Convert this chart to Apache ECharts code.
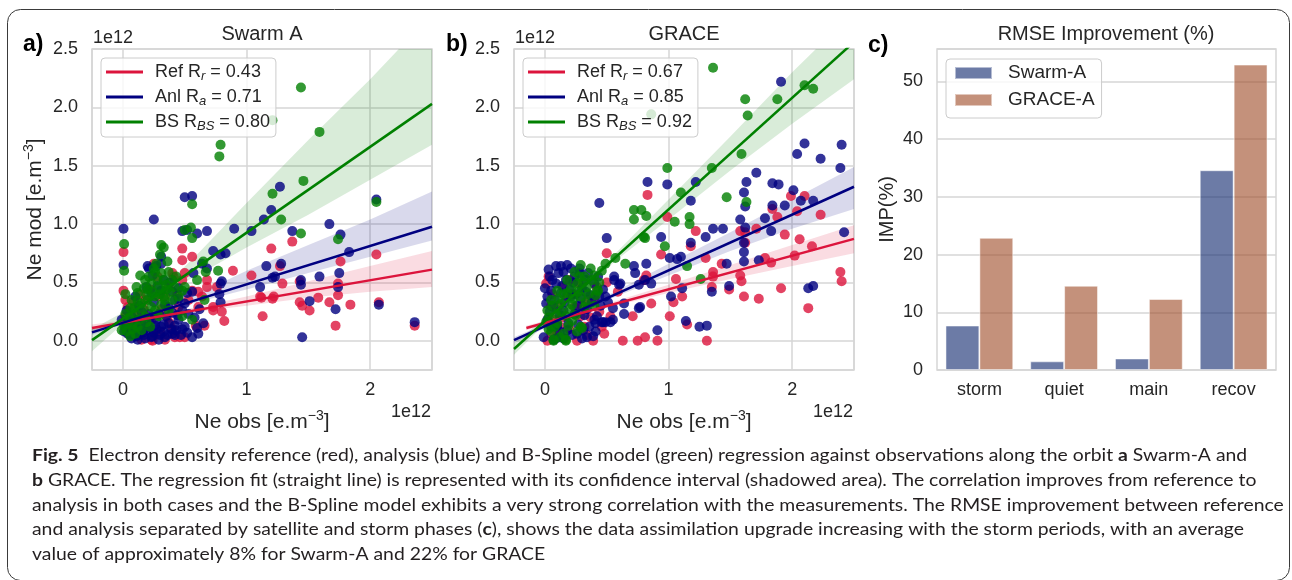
<!DOCTYPE html>
<html><head><meta charset="utf-8">
<script src="https://cdn.jsdelivr.net/npm/echarts@6/dist/echarts.min.js"></script>
<style>html,body{margin:0;padding:0;background:#fff}#c{width:1292px;height:580px}</style>
</head><body><div id="c"></div>
<script>
// ---------------- DATA ----------------
// Panel a (Swarm A): [Ne obs (1e12), Ne mod (1e12)]
const aRefPts = [
[2.05,0.74],[1.37,0.85],[1.20,0.79],[0.48,0.79],[0.005,0.76],[0.56,0.72],[0.48,0.69],[0.89,0.60],[1.04,0.56],[1.76,0.68],
[1.27,0.64],[1.29,0.49],[1.43,0.51],[1.74,0.49],[1.74,0.39],[1.11,0.38],[1.22,0.38],[1.58,0.37],[1.67,0.33],[1.84,0.31],
[1.43,0.33],[1.45,0.30],[1.51,0.26],[2.07,0.33],[1.13,0.21],[1.72,0.13],[2.36,0.13],[0.82,0.17],[0.73,0.26],[0.80,0.25],
[0.68,0.46],[0.61,0.42],[0.41,0.55],[0.005,0.43],[0.50,0.03],[0.24,0.00],[0.66,0.13],[0.68,0.52],[0.73,0.29],[0.76,0.46],
[0.23,0.01],[0.46,0.03],[0.59,0.13],[1.21,0.36],[1.12,0.37],
[0.02,0.35],[0.04,0.29],[0.02,0.21],[0.10,0.29],[0.25,0.66],[0.40,0.58],[0.34,0.38],[0.45,0.29],[0.53,0.35],[0.56,0.43],
[0.61,0.29],[0.64,0.38],[0.42,0.03],[0.34,0.01],[0.15,0.01],[0.07,0.09],[0.18,0.35],[0.29,0.38],[0.37,0.46],[0.48,0.52],
[0.12,0.23],[0.23,0.18],[0.06,0.05],[0.30,0.08],[0.20,0.12],[0.38,0.15],
[0.05,0.12],[0.09,0.34],[0.14,0.40],[0.22,0.44],[0.28,0.55],[0.31,0.27],[0.36,0.20],[0.44,0.40],[0.50,0.58],[0.40,0.10],
[0.27,0.05],[0.17,0.27]
];
const aAnlPts = [
[1.27,1.32],[0.50,1.23],[0.56,1.24],[0.25,1.04],[0.005,0.96],[1.20,1.12],[1.14,1.04],[0.48,0.94],[0.52,0.95],[0.60,0.92],
[0.68,0.94],[0.90,0.96],[1.04,0.94],[1.37,0.94],[1.67,1.00],[1.76,0.91],[2.05,1.21],[0.73,0.77],[0.79,0.74],[0.83,0.75],
[1.83,0.76],[0.005,0.65],[0.31,0.72],[0.31,0.66],[1.16,0.64],[1.28,0.66],[1.21,0.54],[1.23,0.55],[1.11,0.46],[1.59,0.55],
[1.75,0.58],[1.74,0.46],[1.44,0.52],[1.44,0.48],[1.51,0.34],[1.72,0.27],[2.07,0.31],[2.36,0.16],[1.45,0.03],[0.79,0.49],
[0.78,0.40],[0.79,0.33],[0.65,0.15],[0.48,0.10],[0.42,0.05],[0.56,0.42],[0.20,0.64],[0.21,0.62],[0.27,0.64],[0.57,0.58],
[0.64,0.66],[0.68,0.62],[0.80,0.51],[0.60,0.11],[0.52,0.41],[0.45,0.36],[0.40,0.42],
[-0.01,0.18],[0.02,0.12],[0.04,0.06],[0.07,0.02],[0.12,0.01],[0.18,0.02],[0.23,0.03],[0.29,0.01],[0.34,0.03],[0.40,0.06],
[0.10,0.12],[0.15,0.15],[0.21,0.12],[0.26,0.13],[0.31,0.12],[0.37,0.15],[0.42,0.13],[0.45,0.18],[0.50,0.12],[0.56,0.03],
[0.61,0.06],[0.29,0.23],[0.37,0.29],[0.48,0.26],[0.53,0.23],[0.21,0.23],[0.15,0.25],[0.07,0.21],[0.03,0.26],[0.23,0.41],
[0.31,0.43],[0.42,0.35],[0.19,0.46],[0.33,0.52],[0.09,0.05],[0.16,0.07],[0.25,0.07],[0.33,0.08],[0.12,0.18],[0.27,0.18],
[0.01,0.08],[0.03,0.14],[0.05,0.10],[0.08,0.07],[0.11,0.04],[0.14,0.10],[0.17,0.05],[0.20,0.09],[0.24,0.04],[0.27,0.10],
[0.30,0.05],[0.33,0.14],[0.36,0.05],[0.39,0.10],[0.43,0.09],[0.47,0.05],[0.52,0.07],[0.06,0.16],[0.18,0.17],[0.22,0.20],
[0.35,0.21],[0.40,0.24],[0.44,0.22],[0.13,0.30],[0.25,0.33],[0.34,0.31],[0.10,0.38],[0.28,0.47],[0.38,0.50],[0.24,0.56],
[0.45,0.45],[0.58,0.20],[0.62,0.27],[0.50,0.32]
];
const aBSPts = [
[1.44,2.17],[1.21,1.89],[1.59,1.79],[0.79,1.68],[0.78,1.58],[1.46,1.37],[1.21,1.26],[0.56,1.17],[1.28,1.04],[0.55,0.97],
[0.56,0.88],[0.50,0.95],[1.44,0.92],[2.05,1.19],[1.74,0.87],[0.01,0.83],[0.31,0.82],[0.33,0.80],[0.01,0.60],[0.77,0.60],
[0.65,0.68],[0.60,0.52],[0.66,0.35],[0.56,0.18],[0.48,0.21],[0.67,0.59],
[0.27,0.66],[0.26,0.59],[0.31,0.58],[0.37,0.59],[0.14,0.56],[0.18,0.52],[0.11,0.46],[0.23,0.49],[0.29,0.46],[0.33,0.52],
[0.40,0.52],[0.42,0.46],[0.48,0.43],[0.12,0.41],[0.19,0.39],[0.26,0.38],[0.33,0.38],[0.07,0.35],[0.15,0.32],[0.23,0.29],
[0.31,0.31],[0.40,0.35],[0.45,0.38],[0.02,0.23],[0.10,0.23],[0.18,0.21],[0.04,0.15],[-0.01,0.09],[0.03,0.08],[0.10,0.06],
[0.15,0.09],[0.22,0.12],[0.29,0.21],[0.37,0.26],[0.50,0.46],[0.08,0.14],[0.20,0.44],[0.35,0.44],[0.06,0.28],[0.13,0.18],
[0.05,0.20],[0.09,0.28],[0.12,0.34],[0.16,0.27],[0.20,0.35],[0.24,0.42],[0.28,0.52],[0.30,0.40],[0.35,0.48],[0.38,0.42],
[0.43,0.55],[0.21,0.55],[0.17,0.45],[0.26,0.26],[0.34,0.35],[0.08,0.10],[0.12,0.12],[0.01,0.13],[0.06,0.04],[0.19,0.16],
[0.25,0.62],[0.36,0.68],[0.30,0.74],[0.02,0.40]
];
// Panel b (GRACE)
const bRefPts = [
[0.83,1.25],[0.99,1.06],[2.10,1.24],[2.23,1.08],[1.84,1.13],[1.88,1.06],[2.04,1.11],[1.22,0.94],[1.18,0.81],[1.62,0.84],
[1.62,0.93],[1.94,0.91],[2.06,0.87],[1.71,0.96],[0.50,0.75],[0.94,0.74],[1.30,0.71],[2.16,0.81],[2.02,0.73],[1.83,0.67],
[1.78,0.71],[1.43,0.66],[1.36,0.59],[1.36,0.55],[1.58,0.56],[1.59,0.51],[2.39,0.59],[2.40,0.51],[1.06,0.53],[0.80,0.52],
[0.82,0.56],[1.49,0.44],[1.61,0.38],[1.73,0.36],[1.91,0.45],[2.13,0.28],[1.04,0.33],[1.11,0.38],[0.86,0.32],[0.71,0.21],
[1.01,0.21],[1.15,0.14],[0.63,0.00],[0.75,0.00],[0.81,0.03],[0.91,0.00],[1.31,0.00],[0.39,0.00],[0.59,0.42],[0.53,0.21],
[1.99,1.24],[1.35,0.46],[1.58,0.94],
[0.02,0.00],[0.01,0.49],[0.15,0.46],[0.24,0.29],[0.29,0.21],[0.10,0.06],[0.26,0.00],[0.42,0.46],[0.32,0.12],[0.48,0.06],
[0.05,0.30],[0.08,0.18],[0.18,0.38],[0.35,0.35],[0.12,0.12],[0.20,0.52],[0.03,0.55],[0.44,0.25],
[0.06,0.40],[0.11,0.30],[0.14,0.20],[0.22,0.40],[0.27,0.50],[0.30,0.30],[0.37,0.20],[0.40,0.37],[0.05,0.06],[0.16,0.02],
[0.34,0.05],[0.46,0.12],[0.50,0.50],[0.20,0.10]
];
const bAnlPts = [
[1.91,2.22],[2.10,1.69],[2.04,1.60],[2.23,1.56],[2.40,1.68],[2.39,1.48],[1.71,1.44],[0.83,1.36],[0.99,1.34],[1.22,1.36],
[1.63,1.36],[1.84,1.35],[1.89,1.34],[1.61,1.27],[2.01,1.29],[2.07,1.20],[2.17,1.20],[1.94,1.16],[1.84,1.16],[0.44,1.18],
[1.62,1.15],[1.18,1.20],[1.78,1.05],[1.58,1.04],[1.83,0.94],[2.42,0.93],[1.36,0.96],[1.44,0.96],[1.30,0.89],[1.62,0.97],
[0.50,0.88],[0.94,0.89],[1.18,0.84],[1.61,0.84],[1.61,0.76],[1.61,0.68],[1.73,0.69],[1.01,0.71],[1.07,0.70],[1.10,0.72],
[0.82,0.66],[0.72,0.64],[0.73,0.58],[1.47,0.66],[0.86,0.49],[0.81,0.52],[0.76,0.48],[0.56,0.55],[0.60,0.48],[1.02,0.38],
[1.11,0.45],[1.35,0.42],[1.49,0.47],[0.76,0.28],[0.64,0.23],[1.14,0.17],[1.25,0.12],[1.31,0.13],[0.91,0.09],[2.13,0.45],
[2.17,0.47],[0.51,0.33],[0.47,0.16],[0.41,0.15],[0.77,0.29],[0.64,0.32],[0.49,0.16],[0.55,0.18],
[0.03,0.61],[0.09,0.64],[0.04,0.55],[0.15,0.59],[0.21,0.62],[0.28,0.58],[0.09,0.49],[0.17,0.52],[0.24,0.55],[0.33,0.52],
[0.40,0.49],[0.05,0.43],[0.13,0.41],[0.21,0.38],[0.29,0.36],[0.37,0.39],[0.44,0.38],[0.01,0.32],[0.07,0.29],[0.15,0.26],
[0.24,0.23],[0.32,0.22],[0.40,0.18],[0.46,0.16],[0.02,0.18],[0.10,0.13],[0.18,0.09],[0.26,0.06],[0.34,0.03],[0.41,0.08],
[-0.01,0.03],[0.07,0.01],[0.15,0.02],[0.30,0.02],[0.53,0.16],[0.55,0.28],[0.49,0.38],[0.56,0.52],[0.61,0.49],
[0.00,0.45],[0.02,0.38],[0.04,0.25],[0.06,0.52],[0.08,0.35],[0.11,0.58],[0.12,0.22],[0.14,0.47],[0.16,0.33],[0.19,0.15],
[0.20,0.44],[0.22,0.05],[0.23,0.50],[0.26,0.30],[0.27,0.14],[0.30,0.45],[0.31,0.09],[0.34,0.27],[0.35,0.58],[0.36,0.12],
[0.38,0.33],[0.39,0.04],[0.42,0.21],[0.43,0.55],[0.45,0.30],[0.47,0.44],[0.12,0.08],[0.05,0.12],[0.09,0.02],[0.28,0.62],
[0.18,0.65],[0.13,0.64],[0.25,0.40],[0.33,0.42]
];
const bBSPts = [
[1.36,2.34],[1.62,2.07],[1.88,2.07],[1.64,1.93],[2.10,2.19],[2.17,2.16],[0.86,1.94],[1.59,1.60],[1.35,1.48],[0.99,1.48],
[1.10,1.27],[1.47,1.23],[1.63,1.19],[0.72,1.12],[0.78,1.12],[0.82,1.07],[0.72,1.04],[1.05,1.02],[1.17,1.06],[1.17,1.00],
[0.80,0.89],[0.97,0.81],[1.15,0.64],[0.65,0.66],[0.57,0.71],[0.49,0.66],[1.26,0.53],[0.43,0.43],[0.07,0.00],[0.17,0.00],
[0.30,0.11],[0.81,0.88],
[0.29,0.65],[0.37,0.62],[0.24,0.59],[0.32,0.55],[0.40,0.56],[0.18,0.52],[0.26,0.49],[0.34,0.46],[0.42,0.43],[0.10,0.43],
[0.18,0.41],[0.29,0.38],[0.05,0.35],[0.13,0.32],[0.22,0.31],[0.32,0.29],[0.02,0.26],[0.09,0.23],[0.17,0.21],[0.25,0.22],
[0.01,0.16],[0.10,0.15],[0.19,0.13],[0.05,0.08],[0.15,0.06],[0.29,0.12],[0.07,0.01],[0.17,0.01],[0.33,0.33],[0.41,0.39],
[0.03,0.20],[0.06,0.30],[0.08,0.12],[0.11,0.36],[0.13,0.25],[0.15,0.40],[0.20,0.27],[0.21,0.45],[0.23,0.36],[0.27,0.42],
[0.28,0.55],[0.31,0.50],[0.35,0.40],[0.38,0.52],[0.44,0.50],[0.46,0.60],[0.12,0.03],[0.22,0.17],[0.03,0.10],[0.26,0.08],
[0.40,0.30]
];
// regression lines (end points)
const aRefLine = [[-0.25,0.11],[2.5,0.61]];
const aAnlLine = [[-0.25,0.072],[2.5,0.977]];
const aBSLine  = [[-0.25,0.006],[2.5,2.03]];
const bRefLine = [[-0.15,0.11],[2.5,0.873]];
const bAnlLine = [[-0.25,0.006],[2.5,1.32]];
const bBSLine  = [[-0.25,-0.07],[2.5,2.56]];
// confidence bands [x, low, high]
const aRefBand = [[-0.25,0.08,0.14],[0.1,0.16,0.19],[0.3,0.20,0.23],[0.6,0.25,0.29],[1.0,0.30,0.38],[1.5,0.37,0.51],[2.0,0.42,0.64],[2.5,0.46,0.77]];
const aAnlBand = [[-0.25,0.05,0.10],[0.1,0.18,0.20],[0.3,0.24,0.27],[0.6,0.33,0.40],[1.0,0.44,0.60],[1.5,0.58,0.82],[2.0,0.72,1.04],[2.5,0.86,1.28]];
const aBSBand  = [[-0.25,-0.09,0.10],[0.1,0.24,0.30],[0.3,0.39,0.43],[0.6,0.56,0.74],[1.0,0.80,1.18],[1.5,1.08,1.72],[2.0,1.38,2.24],[2.5,1.68,2.80]];
const bRefBand = [[-0.15,0.09,0.13],[0.1,0.17,0.20],[0.3,0.23,0.25],[0.6,0.31,0.35],[1.0,0.41,0.48],[1.5,0.53,0.65],[2.0,0.64,0.82],[2.5,0.75,0.99]];
const bAnlBand = [[-0.25,-0.02,0.03],[0.1,0.16,0.19],[0.3,0.26,0.28],[0.6,0.39,0.44],[1.0,0.56,0.66],[1.5,0.77,0.93],[2.0,0.96,1.21],[2.5,1.13,1.49]];
const bBSBand  = [[-0.25,-0.12,-0.02],[0.1,0.25,0.28],[0.3,0.44,0.47],[0.6,0.71,0.78],[1.0,1.04,1.21],[1.5,1.46,1.75],[2.0,1.86,2.30],[2.5,2.24,2.82]];
// legend texts
const modelNames = ['Ref', 'Anl', 'BS'];
const corrSubs = ['r', 'a', 'BS'];
const corrA = ['0.43', '0.71', '0.80'];
const corrB = ['0.67', '0.85', '0.92'];
// Panel c
const phases = ['storm', 'quiet', 'main', 'recov'];
const swarmImp = [7.7, 1.5, 2.0, 34.6];
const graceImp = [22.9, 14.6, 12.3, 52.9];
const barNames = ['Swarm-A', 'GRACE-A'];
// caption
const captionLines = [
 '{b|Fig. 5}  Electron density reference (red), analysis (blue) and B-Spline model (green) regression against observations along the orbit {b|a} Swarm-A and',
 '{b|b} GRACE. The regression fit (straight line) is represented with its confidence interval (shadowed area). The correlation improves from reference to',
 'analysis in both cases and the B-Spline model exhibits a very strong correlation with the measurements. The RMSE improvement between reference',
 'and analysis separated by satellite and storm phases ({b|c}), shows the data assimilation upgrade increasing with the storm periods, with an average',
 'value of approximately 8% for Swarm-A and 22% for GRACE'
];

// ---------------- STYLE ----------------
const FONT = 'Liberation Sans, Arial, Helvetica, sans-serif';
const CAPF = 'Lato, Noto Sans, sans-serif';
const TXT = '#262626';
const GRIDC = '#d6d6d6';
const RED = '#DC143C', BLUE = '#000080', GREEN = '#008000';
const BAND = ['rgba(220,20,60,0.15)', 'rgba(0,0,128,0.15)', 'rgba(0,128,0,0.15)'];
const BARC = ['rgba(10,35,107,0.6)', 'rgba(157,72,35,0.6)'];

const chart = echarts.init(document.getElementById('c'));

function mkScatter(name, k, data, color) {
  return {type: 'scatter', name, xAxisIndex: k, yAxisIndex: k, data, symbolSize: 10,
    itemStyle: {color, opacity: 0.8}, silent: true, z: 2, animation: false};
}
function mkBand(k, data, fill) {
  return {type: 'custom', xAxisIndex: k, yAxisIndex: k, data, clip: true, silent: true, z: 2,
    encode: {x: 0, y: [1, 2]}, animation: false,
    renderItem(params, api) {
      if (params.dataIndex !== 0) return null;
      const up = [], lo = [];
      for (const d of data) { up.push(api.coord([d[0], d[2]])); lo.unshift(api.coord([d[0], d[1]])); }
      return {type: 'polygon', shape: {points: up.concat(lo)}, style: {fill: fill, stroke: null}};
    }};
}
function mkLine(name, k, data, color) {
  return {type: 'line', name, xAxisIndex: k, yAxisIndex: k, data, color, symbol: 'none', showSymbol: false,
    lineStyle: {color, width: 2.5}, silent: true, z: 3, animation: false};
}
function legName(i, corr) { return modelNames[i] + ' R' + corrSubs[i] + ' = ' + corr[i]; }
const legMap = {};
[corrA, corrB].forEach(c => [0,1,2].forEach(i => {
  legMap[legName(i, c)] = '{g|}{t|' + modelNames[i] + ' R}{s|' + corrSubs[i] + '}{t| = ' + c[i] + '}';
}));
function mkLegend(left, corr) {
  return {orient: 'vertical', left, top: 58, itemWidth: 37, itemHeight: 3, itemGap: 3, icon: 'rect',
    padding: [3, 6, 4, 5], backgroundColor: 'rgba(255,255,255,0.8)', borderColor: '#cccccc', borderWidth: 1,
    borderRadius: 4, selectedMode: false, data: [0,1,2].map(i => legName(i, corr)),
    formatter: n => legMap[n],
    textStyle: {fontSize: 18, color: TXT, fontFamily: FONT, lineHeight: 22,
      rich: {g: {width: 7}, t: {fontSize: 18, lineHeight: 22, color: TXT, fontFamily: FONT},
             s: {fontSize: 13, fontStyle: 'italic', lineHeight: 14, verticalAlign: 'bottom', color: TXT, fontFamily: FONT}}}};
}
const nameStyle = {fontSize: 21, color: TXT, fontFamily: FONT, lineHeight: 26,
  rich: {sup: {fontSize: 14, lineHeight: 14, verticalAlign: 'top', color: TXT, fontFamily: FONT}}};
function mkValX(k) {
  return {gridIndex: k, type: 'value', min: -0.25, max: 2.5, splitNumber: 3,
    axisLine: {show: false}, axisTick: {show: false},
    axisLabel: {showMinLabel: false, showMaxLabel: false, fontSize: 18, color: TXT, fontFamily: FONT, margin: 11,
      formatter: v => String(Math.round(v))},
    splitLine: {lineStyle: {color: GRIDC, width: 1.5}},
    name: 'Ne obs [e.m{sup|−3}]', nameLocation: 'middle', nameGap: 39, nameTextStyle: nameStyle};
}
function mkValY(k, name) {
  return {gridIndex: k, type: 'value', min: -0.25, max: 2.5, splitNumber: 5,
    axisLine: {show: false}, axisTick: {show: false},
    axisLabel: {showMinLabel: false, fontSize: 18, color: TXT, fontFamily: FONT, margin: 14,
      formatter: v => v.toFixed(1)},
    splitLine: {lineStyle: {color: GRIDC, width: 1.5}},
    name, nameLocation: 'middle', nameGap: 44, nameTextStyle: nameStyle};
}
const gridBase = {show: true, borderColor: GRIDC, borderWidth: 1.5, backgroundColor: 'transparent', outerBoundsMode: 'none', containLabel: false};

// caption scale
const mctx = document.createElement('canvas').getContext('2d');
mctx.font = '17px Lato';
const plain = s => s.replace(/\{b\|([^}]*)\}/g, '$1');
const capScale = (1243 - 32) / mctx.measureText(plain(captionLines[3])).width;
const capY0 = 455.5, capDY = 24.8;

const graphic = [
  {type: 'rect', silent: true, z: -10, shape: {x: 7.5, y: 9.5, width: 1282, height: 571, r: 13},
   style: {fill: 'none', stroke: '#3a3a3a', lineWidth: 1}},
  {type: 'text', x: 23, y: 45, style: {text: 'a)', fontSize: 23, fontWeight: 'bold', fontFamily: FONT, fill: '#000', verticalAlign: 'middle'}},
  {type: 'text', x: 446, y: 45, style: {text: 'b)', fontSize: 23, fontWeight: 'bold', fontFamily: FONT, fill: '#000', verticalAlign: 'middle'}},
  {type: 'text', x: 868, y: 46, style: {text: 'c)', fontSize: 23, fontWeight: 'bold', fontFamily: FONT, fill: '#000', verticalAlign: 'middle'}},
  {type: 'text', x: 93, y: 38, style: {text: '1e12', fontSize: 18, fontFamily: FONT, fill: TXT, verticalAlign: 'middle'}},
  {type: 'text', x: 515, y: 38, style: {text: '1e12', fontSize: 18, fontFamily: FONT, fill: TXT, verticalAlign: 'middle'}},
  {type: 'text', x: 431, y: 412, style: {text: '1e12', fontSize: 18, fontFamily: FONT, fill: TXT, align: 'right', verticalAlign: 'middle'}},
  {type: 'text', x: 853, y: 412, style: {text: '1e12', fontSize: 18, fontFamily: FONT, fill: TXT, align: 'right', verticalAlign: 'middle'}}
];
captionLines.forEach((t, i) => {
  graphic.push({type: 'text', x: 32, y: capY0 + i * capDY, scaleX: capScale, silent: true,
    style: {text: t, fontSize: 17, fontFamily: CAPF, fill: '#231F20', verticalAlign: 'middle',
      rich: {b: {fontSize: 17, fontWeight: 'bold', fontFamily: CAPF, fill: '#231F20', color: '#231F20'}}}});
});

const titleStyle = {fontSize: 20, fontWeight: 'normal', color: TXT, fontFamily: FONT, lineHeight: 24};
const option = {
  backgroundColor: '#ffffff',
  animation: false,
  title: [
    {text: 'Swarm A', left: 262, top: 22, textAlign: 'center', padding: 0, textStyle: titleStyle},
    {text: 'GRACE', left: 684, top: 22, textAlign: 'center', padding: 0, textStyle: titleStyle},
    {text: 'RMSE Improvement (%)', left: 1106, top: 22, textAlign: 'center', padding: 0, textStyle: titleStyle}
  ],
  grid: [
    Object.assign({left: 92, top: 49, width: 340, height: 321}, gridBase),
    Object.assign({left: 514, top: 49, width: 340, height: 321}, gridBase),
    Object.assign({left: 937, top: 49, width: 339, height: 321}, gridBase)
  ],
  xAxis: [
    mkValX(0), mkValX(1),
    {gridIndex: 2, type: 'category', data: phases, axisLine: {show: false}, axisTick: {show: false},
     axisLabel: {fontSize: 18, color: TXT, fontFamily: FONT, margin: 11}, splitLine: {show: false}}
  ],
  yAxis: [
    mkValY(0, 'Ne mod [e.m{sup|−3}]'), mkValY(1, ''),
    {gridIndex: 2, type: 'value', min: 0, max: 55.6, interval: 10, axisLine: {show: false}, axisTick: {show: false},
     axisLabel: {showMaxLabel: false, fontSize: 18, color: TXT, fontFamily: FONT, margin: 14},
     splitLine: {lineStyle: {color: GRIDC, width: 1.5}},
     name: 'IMP(%)', nameLocation: 'middle', nameGap: 38, nameTextStyle: {fontSize: 20, color: TXT, fontFamily: FONT, lineHeight: 24}}
  ],
  legend: [
    mkLegend(101, corrA), mkLegend(523, corrB),
    {orient: 'vertical', left: 946, top: 59, itemWidth: 37, itemHeight: 12, itemGap: 5, icon: 'rect',
     padding: [3, 7, 7, 8], backgroundColor: 'rgba(255,255,255,0.8)', borderColor: '#cccccc', borderWidth: 1,
     borderRadius: 4, selectedMode: false, data: barNames, formatter: n => '{g|}' + n,
     textStyle: {fontSize: 19, color: TXT, fontFamily: FONT, lineHeight: 22, rich: {g: {width: 11}}}}
  ],
  series: [
    mkScatter('aRefPts', 0, aRefPts, RED), mkBand(0, aRefBand, BAND[0]),
    mkScatter('aAnlPts', 0, aAnlPts, BLUE), mkBand(0, aAnlBand, BAND[1]),
    mkScatter('aBSPts', 0, aBSPts, GREEN), mkBand(0, aBSBand, BAND[2]),
    mkLine(legName(0, corrA), 0, aRefLine, RED), mkLine(legName(1, corrA), 0, aAnlLine, BLUE), mkLine(legName(2, corrA), 0, aBSLine, GREEN),
    mkScatter('bRefPts', 1, bRefPts, RED), mkBand(1, bRefBand, BAND[0]),
    mkScatter('bAnlPts', 1, bAnlPts, BLUE), mkBand(1, bAnlBand, BAND[1]),
    mkScatter('bBSPts', 1, bBSPts, GREEN), mkBand(1, bBSBand, BAND[2]),
    mkLine(legName(0, corrB), 1, bRefLine, RED), mkLine(legName(1, corrB), 1, bAnlLine, BLUE), mkLine(legName(2, corrB), 1, bBSLine, GREEN),
    {type: 'bar', name: barNames[0], xAxisIndex: 2, yAxisIndex: 2, data: swarmImp, barGap: '0%', barCategoryGap: '20%',
     itemStyle: {color: BARC[0], borderColor: 'rgba(255,255,255,0.5)', borderWidth: 1}, silent: true},
    {type: 'bar', name: barNames[1], xAxisIndex: 2, yAxisIndex: 2, data: graceImp, barGap: '0%', barCategoryGap: '20%',
     itemStyle: {color: BARC[1], borderColor: 'rgba(255,255,255,0.5)', borderWidth: 1}, silent: true}
  ],
  graphic
};
chart.setOption(option);
</script>
</body></html>
